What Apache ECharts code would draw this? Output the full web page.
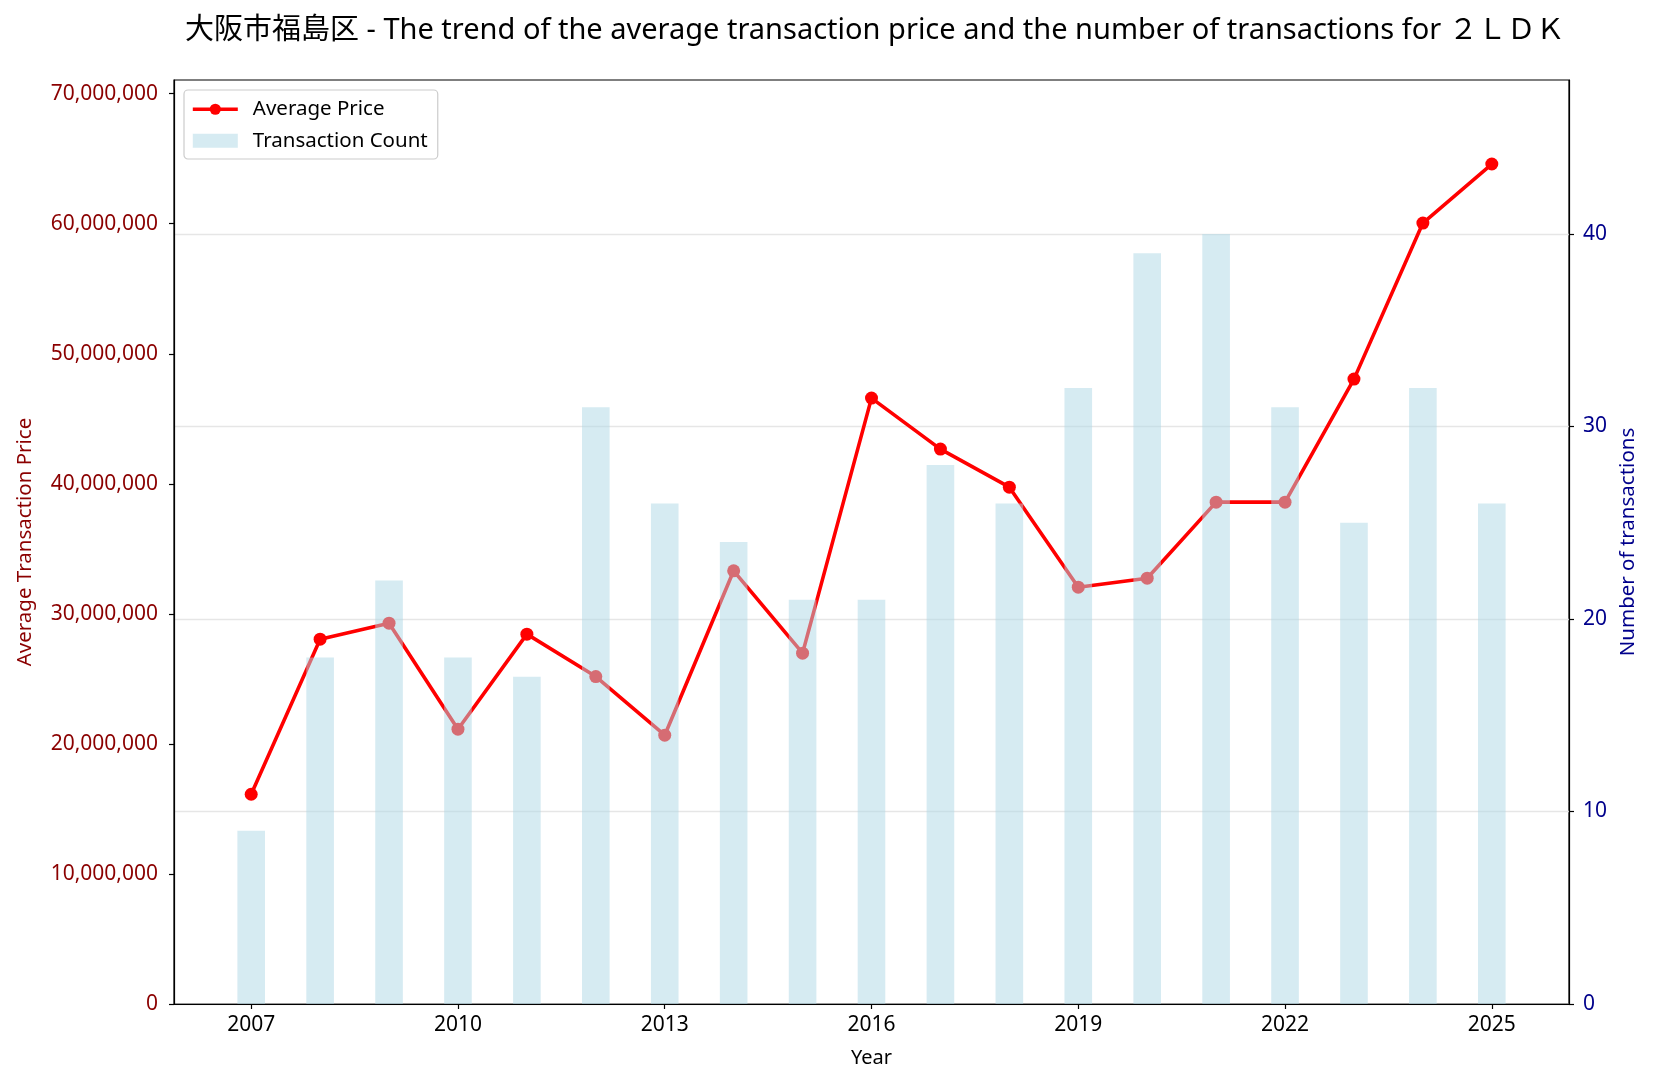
<!DOCTYPE html>
<html>
<head>
<meta charset="utf-8">
<script src="https://cdn.jsdelivr.net/npm/echarts@6/dist/echarts.min.js"></script>
<style>
html,body{margin:0;padding:0;background:#fff;}
#chart{width:1653px;height:1082px;}
</style>
</head>
<body>
<div id="chart"></div>
<script>
const years = [2007,2008,2009,2010,2011,2012,2013,2014,2015,2016,2017,2018,2019,2020,2021,2022,2023,2024,2025];
const avgPrice = [16130000,28050000,29280000,21130000,28440000,25180000,20670000,33310000,26980000,46590000,42670000,39740000,32050000,32740000,38590000,38590000,48050000,60050000,64590000];
const txCount = [9,18,22,18,17,31,26,24,21,21,28,26,32,39,40,31,25,32,26];
const xTicks = [2007,2010,2013,2016,2019,2022,2025];
const leftTicks = [0,10000000,20000000,30000000,40000000,50000000,60000000,70000000];
const rightTicks = [0,10,20,30,40];

const FONT = '"Noto Sans", "Noto Sans CJK JP", sans-serif';
const chart = echarts.init(document.getElementById('chart'));

const fmt = v => Math.round(v).toString().replace(/\B(?=(\d{3})+(?!\d))/g, ',');

chart.setOption({
  animation: false,
  backgroundColor: '#fff',
  textStyle: {fontFamily: FONT},
  title: {
    text: '大阪市福島区 - The trend of the average transaction price and the number of transactions for ２ＬＤＫ',
    left: 180,
    top: 11,
    textStyle: {fontFamily: FONT, fontSize: 29, fontWeight: 'normal', color: '#000'}
  },
  legend: {
    left: 184,
    top: 90,
    orient: 'vertical',
    borderColor: '#cccccc',
    borderWidth: 1.2,
    borderRadius: 4,
    padding: [9, 10, 8, 7],
    itemGap: 11,
    itemWidth: 45,
    itemHeight: 14,
    backgroundColor: 'rgba(255,255,255,0.8)',
    textStyle: {fontFamily: FONT, fontSize: 20.5, color: '#000', padding: [0, 0, 0, 10]},
    data: [
      {name: 'Average Price', lineStyle: {width: 3.6, color: '#ff0000'}},
      {name: 'Transaction Count', icon: 'rect'}
    ]
  },
  grid: {left: 174, right: 84, top: 80, bottom: 78, show: true, borderColor: '#000', borderWidth: 1.2, containLabel: false},
  xAxis: {
    type: 'value',
    min: 2005.88,
    max: 2026.12,
    name: 'Year',
    nameLocation: 'middle',
    nameGap: 44,
    nameTextStyle: {fontFamily: FONT, fontSize: 20, color: '#000'},
    axisLine: {show: true, lineStyle: {color: '#000', width: 1.2}},
    axisTick: {show: true, length: 5, lineStyle: {color: '#000', width: 1.2}, customValues: xTicks},
    axisLabel: {fontFamily: FONT, fontSize: 21, color: '#000', margin: 11, customValues: xTicks, formatter: v => String(v)},
    splitLine: {show: false}
  },
  yAxis: [
    {
      type: 'value',
      min: 0,
      max: 71050000,
      position: 'left',
      name: 'Average Transaction Price',
      nameLocation: 'middle',
      nameGap: 139,
      nameTextStyle: {fontFamily: FONT, fontSize: 20.5, color: '#8b0000'},
      axisLine: {show: true, lineStyle: {color: '#000', width: 1.2}},
      axisTick: {show: true, length: 5, lineStyle: {color: '#000', width: 1.2}, customValues: leftTicks},
      axisLabel: {fontFamily: FONT, fontSize: 21, color: '#8b0000', margin: 16, customValues: leftTicks, formatter: fmt},
      splitLine: {show: false}
    },
    {
      type: 'value',
      min: 0,
      max: 48,
      interval: 10,
      position: 'right',
      name: 'Number of transactions',
      nameLocation: 'middle',
      nameGap: 48,
      nameTextStyle: {fontFamily: FONT, fontSize: 20.5, color: '#00008b'},
      axisLine: {show: true, lineStyle: {color: '#000', width: 1.2}},
      axisTick: {show: true, length: 5, lineStyle: {color: '#000', width: 1.2}, customValues: rightTicks},
      axisLabel: {fontFamily: FONT, fontSize: 21, color: '#00008b', margin: 14, customValues: rightTicks},
      splitLine: {show: true, lineStyle: {color: '#e6e6e6', width: 1.3}}
    }
  ],
  series: [
    {
      name: 'Average Price',
      type: 'line',
      yAxisIndex: 0,
      data: years.map((y, i) => [y, avgPrice[i]]),
      symbol: 'circle',
      symbolSize: 13,
      lineStyle: {color: '#ff0000', width: 3.6},
      itemStyle: {color: '#ff0000'},
      z: 2
    },
    {
      name: 'Transaction Count',
      type: 'bar',
      yAxisIndex: 1,
      data: years.map((y, i) => [y, txCount[i]]),
      barWidth: 27.6,
      itemStyle: {color: 'rgba(173,216,230,0.5)'},
      z: 3
    }
  ]
});
</script>
</body>
</html>
